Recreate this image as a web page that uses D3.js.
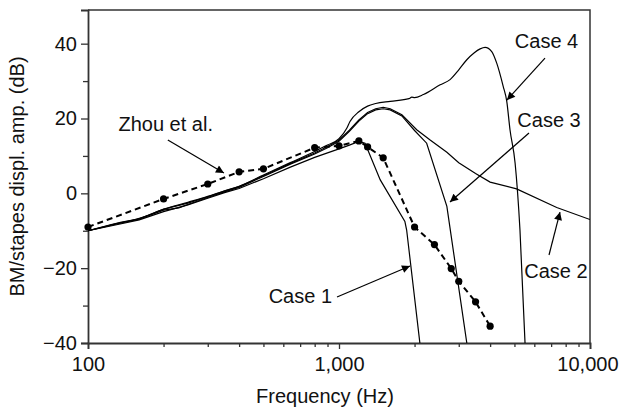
<!DOCTYPE html>
<html>
<head>
<meta charset="utf-8">
<script src="https://cdn.jsdelivr.net/npm/d3@7"></script>
<style>
  body { margin: 0; background: #fff; }
  svg { display: block; font-family: "Liberation Sans", Arial, Helvetica, sans-serif; }
</style>
</head>
<body>
<svg id="chart" width="619" height="410"></svg>
<script>
// ---- Data (frequency in Hz, amplitude in dB) ----
const zhouFreq = [100, 200, 300, 400, 500, 800, 1000, 1200, 1300, 1500, 2000, 2400, 2800, 3000, 3500, 4000];
const zhouDb   = [-9.0, -1.5, 2.5, 5.75, 6.55, 12.2, 12.7, 14.0, 12.4, 9.5, -9.0, -13.7, -20.1, -23.5, -29.0, -35.5];

const case1 = [[100,-10],[130,-8.4],[160,-7.1],[200,-4.9],[250,-3.1],[300,-1.3],[350,0.2],[400,1.3],[500,3.9],[640,7.0],[800,9.6],[900,10.8],[1000,11.9],[1100,12.9],[1200,13.9],[1270,13.4],[1460,3.6],[1830,-7.5],[1860,-9.8],[2100,-40]];
const case2 = [[100,-10],[130,-8.1],[160,-6.8],[200,-4.2],[230,-3.2],[250,-2.6],[300,-0.9],[350,0.6],[400,1.8],[500,4.7],[640,8.0],[800,10.8],[900,12.5],[1000,14.2],[1100,16.9],[1200,19.6],[1300,21.6],[1400,22.6],[1500,23.0],[1600,22.6],[1780,21.0],[2040,17.0],[2300,14.3],[2690,11.0],[3000,8.2],[3500,5.3],[4000,3.0],[5100,1.2],[7370,-3.8],[10000,-7.0]];
const case3 = [[100,-10],[130,-8.2],[160,-6.9],[200,-4.5],[230,-3.9],[250,-3.0],[300,-1.1],[350,0.4],[400,1.6],[500,4.5],[640,7.8],[800,10.5],[900,12.2],[1000,13.9],[1100,16.6],[1200,19.3],[1300,21.3],[1400,22.3],[1500,22.6],[1600,22.3],[1780,20.7],[2000,16.8],[2235,13.4],[2690,-3.5],[3230,-40]];
const case4 = [[100,-10],[130,-8.0],[160,-6.7],[200,-4.3],[250,-2.4],[300,-0.8],[350,0.7],[400,1.9],[500,4.9],[640,8.2],[800,11.2],[900,12.9],[1000,14.6],[1074,17.4],[1106,19.2],[1200,21.8],[1300,23.3],[1400,24.0],[1600,24.6],[1900,25.3],[1950,25.7],[2000,25.6],[2170,26.4],[2530,29.0],[2770,30.4],[3000,33.0],[3230,35.7],[3450,37.5],[3650,38.6],[3820,39.0],[4060,37.9],[4250,34.8],[4510,28.6],[4660,24.6],[4800,17.0],[5030,8.1],[5260,-9.8],[5510,-40]];

const xMajorTicks = [100, 1000, 10000];
const xMajorLabels = ["100", "1,000", "10,000"];
const xMinorTicks = [200,300,400,500,600,700,800,900,2000,3000,4000,5000,6000,7000,8000,9000];
const yMajorTicks = [-40, -20, 0, 20, 40];
const yMinorTicks = [-30, -10, 10, 30];

// annotations: label position & arrow (data coordinates)
const annotations = [
  { text: "Zhou et al.", lf: 204, ld: 16.65, anchor: "middle", a: [208, 14.25], b: [348, 5.43] },
  { text: "Case 4", lf: 6710, ld: 38.83, anchor: "middle", a: [6618, 36.16], b: [4670, 24.94] },
  { text: "Case 3", lf: 6866, ld: 17.72, anchor: "middle", a: [5715, 16.12], b: [2768, -2.32] },
  { text: "Case 2", lf: 7320, ld: -22.63, anchor: "middle", a: [6866, -16.48], b: [7595, -5.0] },
  { text: "Case 1", lf: 938, ld: -29.31, anchor: "end", a: [982, -27.71], b: [1918, -19.42] }
];

// ---- Layout ----
const W = 619, H = 410;
const margin = { left: 88, top: 10, right: 29, bottom: 67 };
const svg = d3.select("#chart");

const x = d3.scaleLog().domain([100, 10000]).range([margin.left, W - margin.right]);
const y = d3.scaleLinear().domain([-40, 49]).range([H - margin.bottom, margin.top]);

const axisColor = "#333";
const fontSize = 20;

svg.append("defs").append("clipPath").attr("id", "plotclip")
  .append("rect")
  .attr("x", x.range()[0]).attr("y", y.range()[1])
  .attr("width", x.range()[1] - x.range()[0])
  .attr("height", y.range()[0] - y.range()[1]);

svg.select("defs").append("marker")
  .attr("id", "arrow")
  .attr("viewBox", "0 0 10 10")
  .attr("refX", 10).attr("refY", 5)
  .attr("markerWidth", 11).attr("markerHeight", 8)
  .attr("markerUnits", "userSpaceOnUse")
  .attr("orient", "auto")
  .append("path").attr("d", "M0,0 L10,5 L0,10 Z").attr("fill", "#000");

// frame (top & right)
svg.append("path")
  .attr("d", `M${x.range()[0]},${y.range()[1]} H${x.range()[1]} V${y.range()[0]}`)
  .attr("fill", "none").attr("stroke", axisColor).attr("stroke-width", 1.5);

// X axis
const xAxisG = svg.append("g").attr("transform", `translate(0,${y.range()[0]})`);
xAxisG.call(d3.axisBottom(x).tickValues(xMajorTicks)
  .tickFormat((d, i) => xMajorLabels[i]).tickSize(6).tickPadding(8));
const xMinorG = svg.append("g").attr("transform", `translate(0,${y.range()[0]})`);
xMinorG.call(d3.axisBottom(x).tickValues(xMinorTicks).tickFormat("").tickSize(4));
xMinorG.select(".domain").remove();

// Y axis
const yAxisG = svg.append("g").attr("transform", `translate(${x.range()[0]},0)`);
yAxisG.call(d3.axisLeft(y).tickValues(yMajorTicks)
  .tickFormat(d => d < 0 ? "\u2212" + Math.abs(d) : String(d)).tickSize(7).tickPadding(4));
const yMinorG = svg.append("g").attr("transform", `translate(${x.range()[0]},0)`);
yMinorG.call(d3.axisLeft(y).tickValues(yMinorTicks).tickFormat("").tickSize(5));
yMinorG.select(".domain").remove();

svg.selectAll(".domain").attr("stroke", axisColor).attr("stroke-width", 1.8);
svg.selectAll(".tick line").attr("stroke", axisColor).attr("stroke-width", 1.3);
svg.selectAll(".tick text").attr("font-size", fontSize).attr("fill", "#111")
  .attr("font-family", "'Liberation Sans', Arial, sans-serif");
xAxisG.selectAll(".tick text").attr("dy", "0.71em");
// keep the last label inside the picture, as in the reference
xAxisG.selectAll(".tick text").filter(d => d === 10000)
  .attr("text-anchor", "end").attr("dx", 28);

// axis titles
svg.append("text")
  .attr("x", 325).attr("y", 403)
  .attr("text-anchor", "middle").attr("font-size", fontSize).attr("fill", "#111")
  .text("Frequency (Hz)");
svg.append("text")
  .attr("transform", `translate(24,${(y.range()[0] + y.range()[1]) / 2}) rotate(-90)`)
  .attr("text-anchor", "middle").attr("font-size", fontSize).attr("fill", "#111")
  .text("BM/stapes displ. amp. (dB)");

// ---- Curves ----
const plot = svg.append("g").attr("clip-path", "url(#plotclip)");
const line = d3.line().x(d => x(d[0])).y(d => y(d[1]));
const smoothLine = d3.line().x(d => x(d[0])).y(d => y(d[1])).curve(d3.curveMonotoneX);

[case1, case2, case3].forEach(c => {
  plot.append("path").datum(c).attr("d", line)
    .attr("fill", "none").attr("stroke", "#000").attr("stroke-width", 1.2);
});
plot.append("path").datum(case4).attr("d", smoothLine)
  .attr("fill", "none").attr("stroke", "#000").attr("stroke-width", 1.2);

// Zhou et al. measured data
const zhou = zhouFreq.map((f, i) => [f, zhouDb[i]]);
plot.append("path").datum(zhou).attr("d", line)
  .attr("fill", "none").attr("stroke", "#000").attr("stroke-width", 2)
  .attr("stroke-dasharray", "6,4");
svg.append("g").selectAll("circle").data(zhou).join("circle")
  .attr("cx", d => x(d[0])).attr("cy", d => y(d[1])).attr("r", 3.6).attr("fill", "#000");

// ---- Annotations ----
annotations.forEach(a => {
  svg.append("text")
    .attr("x", x(a.lf)).attr("y", y(a.ld))
    .attr("text-anchor", a.anchor).attr("font-size", fontSize).attr("fill", "#111")
    .text(a.text);
  svg.append("line")
    .attr("x1", x(a.a[0])).attr("y1", y(a.a[1]))
    .attr("x2", x(a.b[0])).attr("y2", y(a.b[1]))
    .attr("stroke", "#000").attr("stroke-width", 1.2)
    .attr("marker-end", "url(#arrow)");
});
</script>
</body>
</html>
